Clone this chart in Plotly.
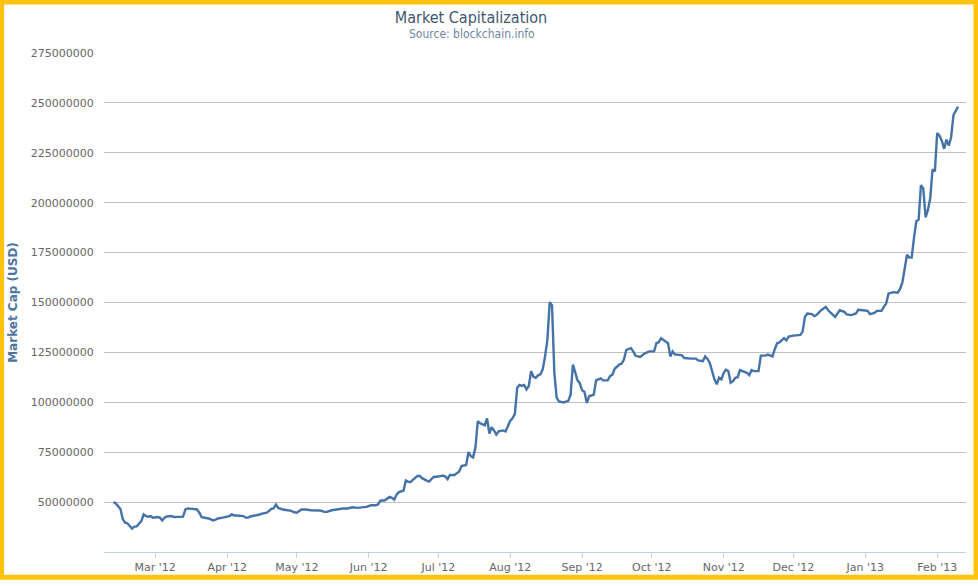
import plotly.graph_objects as go

# Market cap readings (USD millions)
dates = [
    "2012-02-12", "2012-02-13", "2012-02-15", "2012-02-16", "2012-02-17", "2012-02-18", "2012-02-19",
    "2012-02-20", "2012-02-21", "2012-02-22", "2012-02-24", "2012-02-25", "2012-02-26", "2012-02-27",
    "2012-02-28", "2012-02-29", "2012-03-02", "2012-03-03", "2012-03-04", "2012-03-05", "2012-03-06",
    "2012-03-08", "2012-03-09", "2012-03-11", "2012-03-13", "2012-03-14", "2012-03-15", "2012-03-17",
    "2012-03-19", "2012-03-20", "2012-03-21", "2012-03-24", "2012-03-26", "2012-03-27", "2012-03-28",
    "2012-03-30", "2012-03-31", "2012-04-02", "2012-04-03", "2012-04-04", "2012-04-05", "2012-04-08",
    "2012-04-09", "2012-04-10", "2012-04-11", "2012-04-12", "2012-04-13", "2012-04-15", "2012-04-16",
    "2012-04-18", "2012-04-19", "2012-04-20", "2012-04-21", "2012-04-22", "2012-04-23", "2012-04-25",
    "2012-04-27", "2012-04-28", "2012-04-30", "2012-05-01", "2012-05-03", "2012-05-05", "2012-05-07",
    "2012-05-10", "2012-05-11", "2012-05-13", "2012-05-14", "2012-05-16", "2012-05-19", "2012-05-21",
    "2012-05-23", "2012-05-24", "2012-05-25", "2012-05-27", "2012-05-29", "2012-05-31", "2012-06-02",
    "2012-06-04", "2012-06-05", "2012-06-06", "2012-06-08", "2012-06-09", "2012-06-10", "2012-06-11",
    "2012-06-12", "2012-06-13", "2012-06-14", "2012-06-16", "2012-06-17", "2012-06-18", "2012-06-19",
    "2012-06-20", "2012-06-22", "2012-06-23", "2012-06-24", "2012-06-26", "2012-06-27", "2012-06-28",
    "2012-06-29", "2012-07-01", "2012-07-03", "2012-07-04", "2012-07-05", "2012-07-06", "2012-07-08",
    "2012-07-09", "2012-07-10", "2012-07-11", "2012-07-13", "2012-07-14", "2012-07-15", "2012-07-16",
    "2012-07-17", "2012-07-18", "2012-07-19", "2012-07-21", "2012-07-22", "2012-07-23", "2012-07-24",
    "2012-07-25", "2012-07-26", "2012-07-27", "2012-07-29", "2012-07-30", "2012-07-31", "2012-08-01",
    "2012-08-02", "2012-08-03", "2012-08-04", "2012-08-05", "2012-08-06", "2012-08-07", "2012-08-08",
    "2012-08-09", "2012-08-10", "2012-08-11", "2012-08-12", "2012-08-13", "2012-08-14", "2012-08-15",
    "2012-08-16", "2012-08-17", "2012-08-18", "2012-08-19", "2012-08-20", "2012-08-21", "2012-08-22",
    "2012-08-23", "2012-08-24", "2012-08-26", "2012-08-27", "2012-08-28", "2012-08-29", "2012-08-30",
    "2012-08-31", "2012-09-01", "2012-09-02", "2012-09-03", "2012-09-04", "2012-09-06", "2012-09-07",
    "2012-09-09", "2012-09-10", "2012-09-12", "2012-09-13", "2012-09-14", "2012-09-15", "2012-09-17",
    "2012-09-18", "2012-09-19", "2012-09-20", "2012-09-22", "2012-09-23", "2012-09-24", "2012-09-26",
    "2012-09-28", "2012-09-30", "2012-10-02", "2012-10-03", "2012-10-04", "2012-10-05", "2012-10-06",
    "2012-10-08", "2012-10-09", "2012-10-10", "2012-10-11", "2012-10-12", "2012-10-14", "2012-10-15",
    "2012-10-18", "2012-10-20", "2012-10-21", "2012-10-23", "2012-10-24", "2012-10-25", "2012-10-26",
    "2012-10-27", "2012-10-28", "2012-10-29", "2012-10-30", "2012-10-31", "2012-11-01", "2012-11-02",
    "2012-11-03", "2012-11-04", "2012-11-05", "2012-11-06", "2012-11-07", "2012-11-08", "2012-11-10",
    "2012-11-11", "2012-11-12", "2012-11-13", "2012-11-14", "2012-11-16", "2012-11-17", "2012-11-19",
    "2012-11-20", "2012-11-22", "2012-11-23", "2012-11-24", "2012-11-25", "2012-11-27", "2012-11-28",
    "2012-11-29", "2012-12-01", "2012-12-04", "2012-12-05", "2012-12-06", "2012-12-07", "2012-12-09",
    "2012-12-10", "2012-12-11", "2012-12-13", "2012-12-15", "2012-12-16", "2012-12-18", "2012-12-19",
    "2012-12-21", "2012-12-23", "2012-12-24", "2012-12-26", "2012-12-28", "2012-12-29", "2012-12-31",
    "2013-01-02", "2013-01-03", "2013-01-05", "2013-01-06", "2013-01-08", "2013-01-09", "2013-01-10",
    "2013-01-11", "2013-01-13", "2013-01-15", "2013-01-16", "2013-01-17", "2013-01-18", "2013-01-19",
    "2013-01-20", "2013-01-21", "2013-01-22", "2013-01-23", "2013-01-24", "2013-01-25", "2013-01-26",
    "2013-01-27", "2013-01-28", "2013-01-29", "2013-01-30", "2013-01-31", "2013-02-01", "2013-02-02",
    "2013-02-03", "2013-02-04", "2013-02-05", "2013-02-06", "2013-02-07", "2013-02-08", "2013-02-09",
    "2013-02-10",
]

market_cap_musd = [
    50.1, 49.3, 46.5, 41.5, 39.7, 39.4, 38.0,
    36.7, 37.7, 37.8, 40.5, 43.8, 43.0, 42.7,
    43.0, 42.2, 42.5, 42.2, 40.8, 42.2, 42.8,
    43.0, 42.5, 42.5, 42.7, 46.3, 46.8, 46.6,
    46.3, 44.7, 42.5, 41.8, 40.8, 41.2, 41.8,
    42.2, 42.5, 43.0, 43.8, 43.3, 43.3, 43.0,
    42.2, 42.2, 42.8, 43.0, 43.5, 43.8, 44.2,
    44.7, 45.5, 46.6, 46.8, 48.8, 47.1, 46.3,
    45.9, 45.8, 44.9, 44.7, 46.3, 46.3, 45.9,
    45.9, 45.8, 45.1, 45.1, 45.9, 46.6, 46.8,
    46.8, 47.1, 47.4, 47.1, 47.4, 47.6, 48.4,
    48.4, 48.8, 50.7, 50.9, 51.7, 52.6, 52.1,
    51.2, 53.7, 55.0, 55.7, 60.8, 60.3, 60.0,
    61.1, 63.1, 63.1, 62.0, 60.8, 60.3, 61.5,
    62.6, 62.8, 63.3, 62.8, 61.5, 63.6, 63.6,
    64.5, 65.3, 68.1, 68.6, 75.1, 73.0, 72.4,
    77.3, 90.5, 89.5, 88.4, 91.9, 84.3, 87.5,
    85.9, 83.8, 85.4, 85.9, 85.4, 88.4, 90.8,
    92.0, 94.2, 107.3, 108.7, 108.2, 108.7, 106.5,
    108.2, 115.6, 112.8, 112.3, 113.5, 114.0, 116.5,
    123.0, 131.3, 150.2, 148.6, 114.8, 102.4, 100.4,
    100.2, 99.9, 100.7, 103.7, 118.9, 114.8, 111.0,
    109.5, 106.0, 105.2, 99.7, 103.0, 103.8, 111.0,
    112.0, 111.0, 111.0, 113.1, 113.8, 116.8, 118.9,
    119.4, 121.4, 126.3, 127.1, 125.5, 123.3, 122.7,
    124.5, 125.5, 125.5, 129.6, 130.1, 132.1, 131.3,
    129.6, 123.0, 125.5, 123.9, 123.9, 123.5, 122.2,
    121.9, 121.9, 121.0, 120.6, 123.0, 121.7, 119.7,
    114.8, 111.5, 109.0, 112.3, 111.5, 114.8, 116.4,
    115.6, 109.8, 110.6, 112.3, 112.6, 116.1, 115.1,
    114.8, 113.6, 116.1, 115.6, 115.6, 123.4, 123.4,
    123.9, 123.0, 126.6, 129.6, 130.0, 132.1, 131.0,
    132.9, 133.4, 133.8, 135.4, 142.8, 144.5, 144.2,
    143.2, 143.7, 146.1, 147.8, 146.1, 144.2, 142.8,
    146.1, 145.3, 144.0, 143.7, 144.5, 146.4, 146.1,
    145.8, 144.2, 144.8, 145.8, 145.8, 147.8, 149.4,
    154.4, 155.2, 154.9, 156.8, 160.1, 167.6, 173.9,
    172.5, 172.5, 182.4, 190.7, 191.5, 208.8, 207.2,
    192.7, 196.4, 202.2, 216.7, 215.7, 234.9, 233.6,
    231.1, 227.0, 231.6, 228.6, 232.8, 243.8, 246.0,
    248.1,
]

market_cap = [v * 1_000_000 for v in market_cap_musd]
y_ticks = list(range(50_000_000, 275_000_001, 25_000_000))

W, H = 978, 586
L, R, T, B = 103, 12, 53, 28
PW, PH = W - L - R, H - T - B


def px_x(x):
    return (x - L) / PW


def px_y(y):
    return (H - B - y) / PH


fig = go.Figure()
fig.add_trace(go.Scatter(
    x=dates, y=market_cap, mode="lines",
    line=dict(color="#4572A7", width=2.4),
    name="Market Cap", showlegend=False,
))

fig.update_layout(
    width=W, height=H,
    margin=dict(l=L, r=R, t=T, b=B),
    paper_bgcolor="white", plot_bgcolor="white",
    font=dict(family="DejaVu Sans", size=11, color="#666666"),
    title=dict(
        text="Market Capitalization",
        x=471 / W, xref="container", xanchor="center",
        y=1 - 17 / H, yref="container", yanchor="middle",
        font=dict(family="DejaVu Sans Condensed, DejaVu Sans", size=16, color="#3E576F"),
    ),
    xaxis=dict(
        type="date",
        range=["2012-02-07 22:00", "2013-02-13 10:00"],
        dtick="M1", tickformat="%b '%y",
        showgrid=False, zeroline=False,
        showline=True, linecolor="#C0D0E0", linewidth=1,
        ticks="outside", ticklen=5, tickcolor="#C0D0E0", tickwidth=1,
        tickfont=dict(size=11, color="#666666"),
    ),
    yaxis=dict(
        range=[25_000_000, 275_000_000],
        tickvals=y_ticks, tickformat="d",
        showgrid=True, gridcolor="#C0C0C0", gridwidth=1,
        zeroline=False, showline=False,
        ticks="outside", ticklen=7, tickcolor="rgba(0,0,0,0)",
        tickfont=dict(size=11, color="#666666"),
        title=dict(text="<b>Market Cap (USD)</b>", standoff=10,
                   font=dict(size=12, color="#4D759E")),
    ),
    annotations=[dict(
        text="Source: blockchain.info",
        x=px_x(471), y=px_y(34), xref="paper", yref="paper",
        xanchor="center", yanchor="middle", showarrow=False,
        font=dict(family="DejaVu Sans Condensed, DejaVu Sans", size=12, color="#6D869F"),
    )],
    shapes=[dict(
        type="rect", xref="paper", yref="paper",
        x0=px_x(0.5), x1=px_x(976), y0=px_y(583.5), y1=px_y(1.5),
        line=dict(color="#FFC30F", width=5), fillcolor="rgba(0,0,0,0)",
    )],
)

# page body has a default 8px margin; drop it so the figure sits at the window corner
fig.write_html(
    "out.html",
    config={"displayModeBar": False, "responsive": False},
    post_script="document.body.style.margin='0px';",
)
